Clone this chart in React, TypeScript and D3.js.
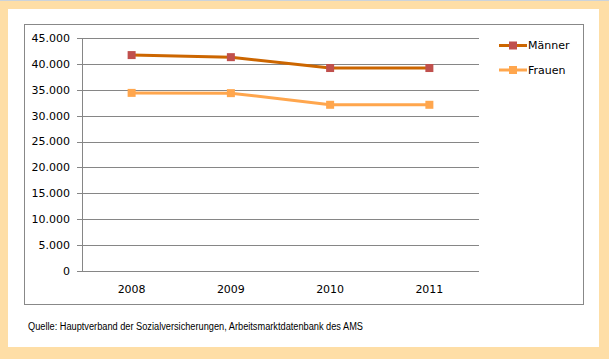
import React, { useRef, useEffect } from 'react'
import * as d3 from 'd3'

// chart values
const years = ['2008', '2009', '2010', '2011']
const maenner = [41700, 41300, 39200, 39200]
const frauen = [34400, 34350, 32100, 32100]
const yTicks = [0, 5000, 10000, 15000, 20000, 25000, 30000, 35000, 40000, 45000]
const seriesNames = ['Männer', 'Frauen']
const source = 'Quelle: Hauptverband der Sozialversicherungen, Arbeitsmarktdatenbank des AMS'

export default function App() {
    const svgRef = useRef<SVGSVGElement>(null)

    useEffect(() => {
        const w = 609
        const h = 359
        const svg = d3.select(svgRef.current)
            .attr('width', w)
            .attr('height', h)
        svg.selectAll('*').remove()

        // frame
        svg.append('rect').attr('width', w).attr('height', h).attr('fill', '#FEDEA6')
        svg.append('rect').attr('x', 8).attr('y', 9).attr('width', 591).attr('height', 338).attr('fill', '#fff')
        svg.append('line').attr('x1', 0).attr('x2', w).attr('y1', 0.5).attr('y2', 0.5).attr('stroke', '#CBD3DB')
        svg.append('rect').attr('x', 24.5).attr('y', 24.5).attr('width', 559).attr('height', 280)
            .attr('fill', 'none').attr('stroke', '#888')

        const left = 82, right = 479, top = 38, bottom = 271

        const xScale = d3.scaleBand().domain(years).range([left, right])
        const yScale = d3.scaleLinear().domain([0, 45000]).range([bottom, top])
        const fmt = (d: number) => d3.format(',')(d).replace(/,/g, '.')

        // grid
        svg.append('g').selectAll('line').data(yTicks).join('line')
            .attr('x1', left - 5).attr('x2', right)
            .attr('y1', d => Math.round(yScale(d)) + 0.5)
            .attr('y2', d => Math.round(yScale(d)) + 0.5)
            .attr('stroke', '#868686')
        svg.append('line').attr('x1', left + 0.5).attr('x2', left + 0.5)
            .attr('y1', top).attr('y2', bottom + 0.5).attr('stroke', '#868686')

        // y labels
        svg.append('g').selectAll('text').data(yTicks).join('text')
            .attr('x', 70).attr('y', d => yScale(d)).attr('dy', '0.35em')
            .attr('text-anchor', 'end')
            .style('font-family', 'DejaVu Sans, sans-serif').style('font-size', '11px').attr('fill', '#000')
            .text(fmt)

        // x labels
        svg.append('g').selectAll('text').data(years).join('text')
            .attr('x', d => xScale(d)! + xScale.bandwidth() / 2).attr('y', 293)
            .attr('text-anchor', 'middle')
            .style('font-family', 'DejaVu Sans, sans-serif').style('font-size', '11px').attr('fill', '#000')
            .text(d => d)

        const series = [
            { name: seriesNames[0], values: maenner, line: '#CC6600', marker: '#C0504D', width: 3 },
            { name: seriesNames[1], values: frauen, line: '#FFA64D', marker: '#FFA64D', width: 3 },
        ]

        const line = d3.line<number>()
            .x((d, i) => xScale(years[i])! + xScale.bandwidth() / 2)
            .y(d => yScale(d))

        series.forEach((s, k) => {
            svg.append('path').datum(s.values)
                .attr('d', line).attr('fill', 'none')
                .attr('stroke', s.line).attr('stroke-width', s.width)
            svg.append('g').selectAll('rect').data(s.values).join('rect')
                .attr('x', (d, i) => xScale(years[i])! + xScale.bandwidth() / 2 - 4)
                .attr('y', d => yScale(d) - 4)
                .attr('width', 8).attr('height', 8)
                .attr('fill', s.marker)

            // legend
            const ly = 45.5 + k * 24.5
            svg.append('line').attr('x1', 499).attr('x2', 527).attr('y1', ly).attr('y2', ly)
                .attr('stroke', s.line).attr('stroke-width', s.width)
            svg.append('rect').attr('x', 509).attr('y', ly - 4).attr('width', 8).attr('height', 8)
                .attr('fill', s.marker)
            svg.append('text').attr('x', 528).attr('y', ly).attr('dy', '0.35em')
                .style('font-family', 'DejaVu Sans, sans-serif').style('font-size', '11px').attr('fill', '#000')
                .text(s.name)
        })

        svg.append('text').attr('x', 28).attr('y', 330)
            .attr('textLength', 335).attr('lengthAdjust', 'spacingAndGlyphs')
            .style('font-family', 'Liberation Sans Narrow, Liberation Sans, sans-serif').style('font-size', '10px')
            .attr('fill', '#000')
            .text(source)
    }, [])

    return (
        <div style={{ position: 'absolute', left: 0, top: 0 }}>
            <svg ref={svgRef} style={{ display: 'block' }}></svg>
        </div>
    )
}
